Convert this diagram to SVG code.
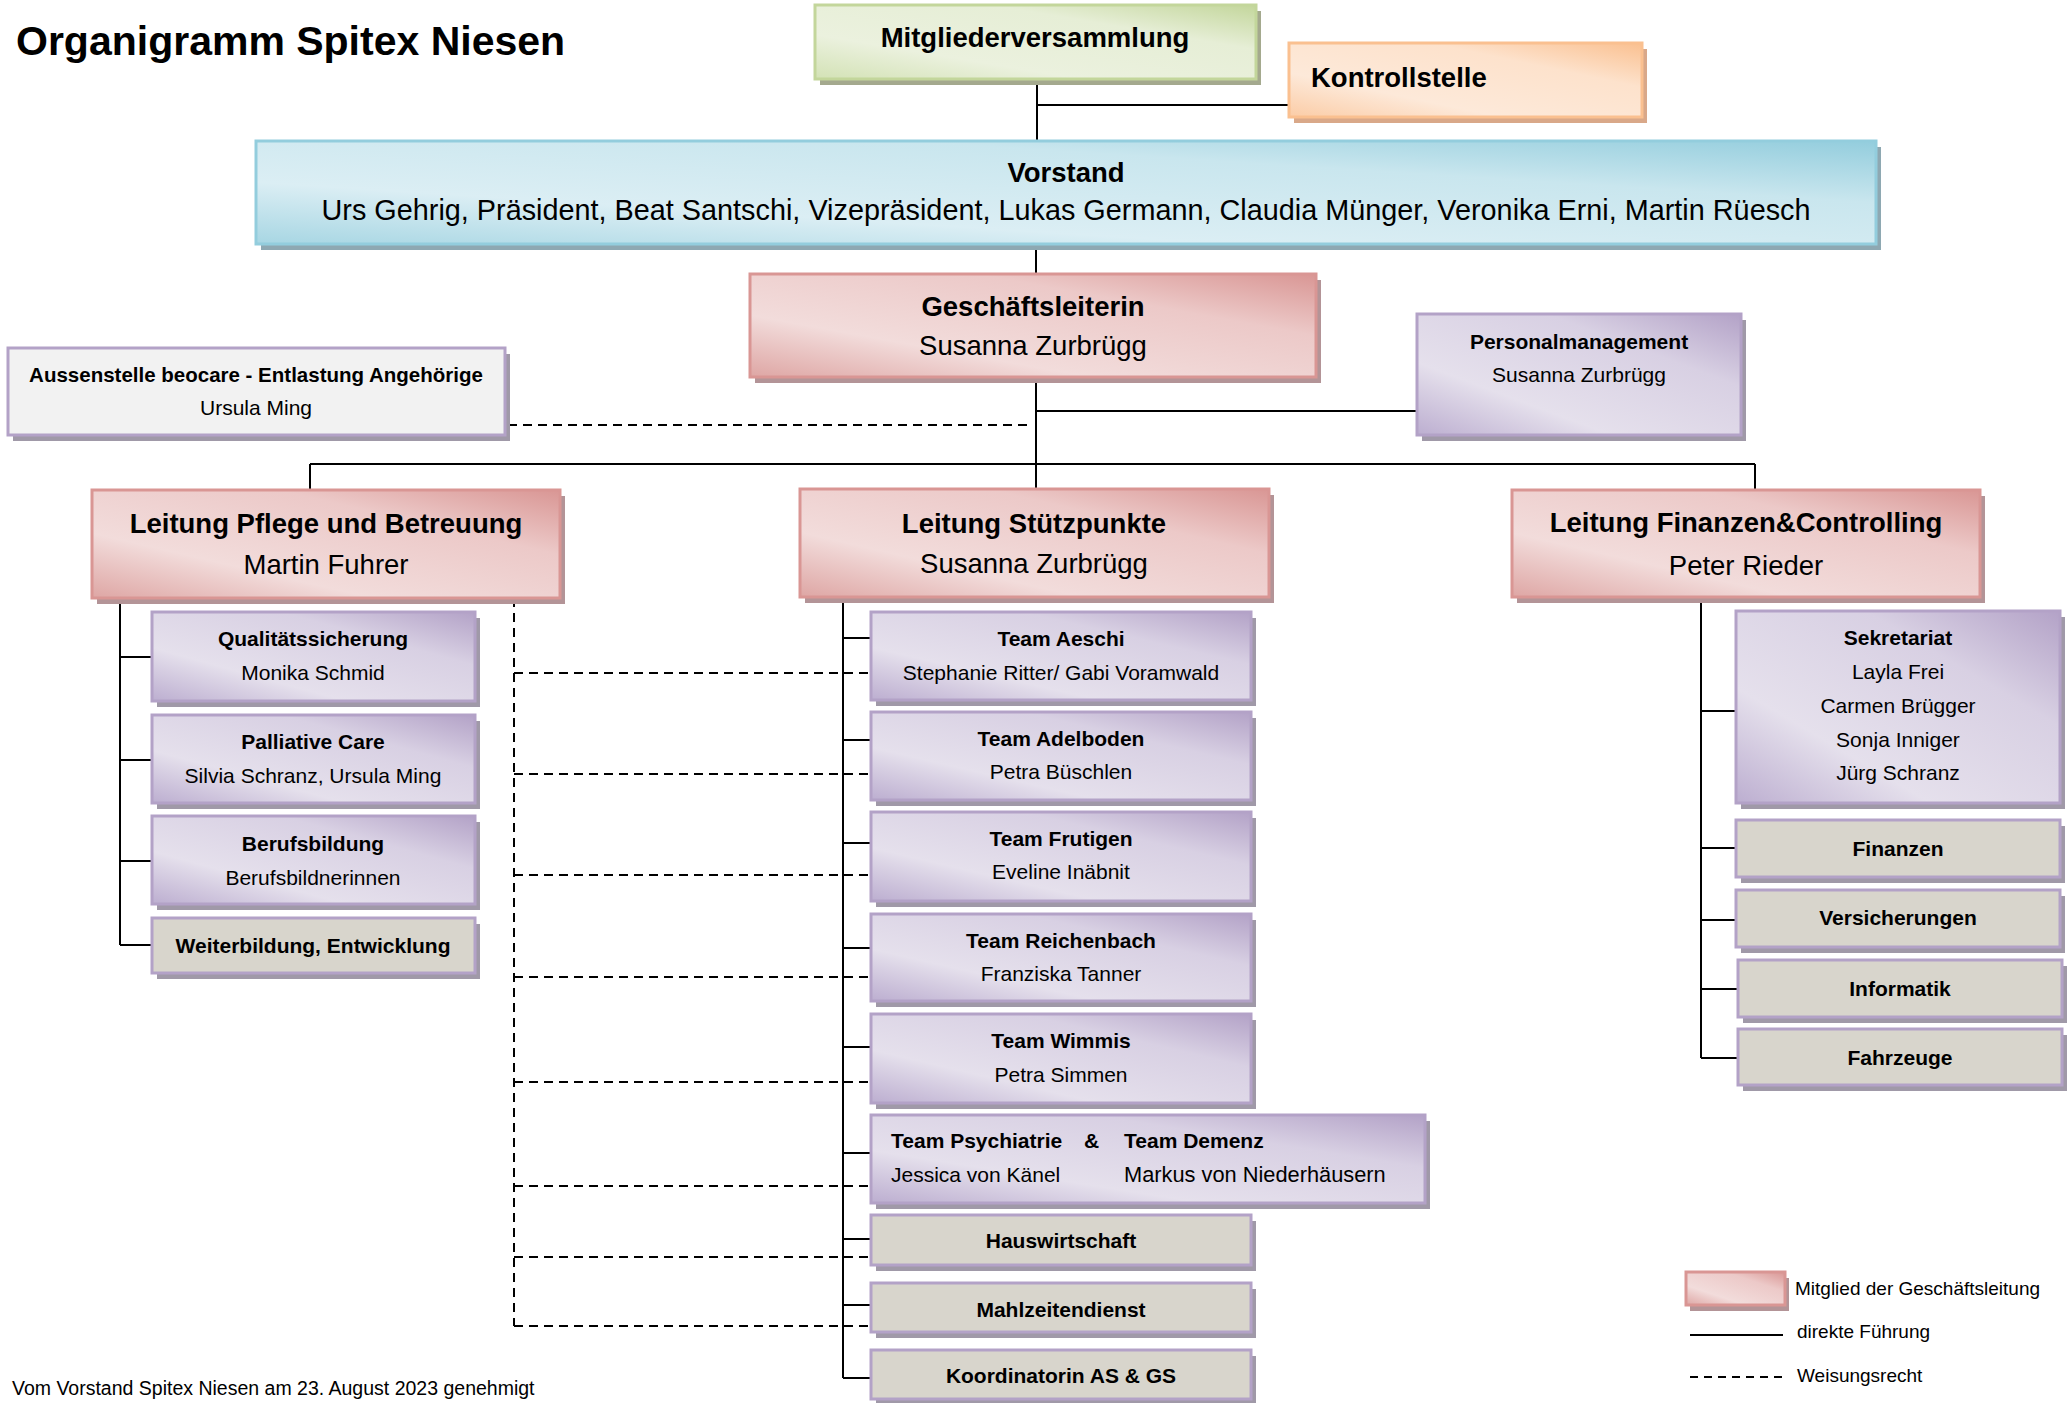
<svg xmlns="http://www.w3.org/2000/svg" width="2069" height="1403" viewBox="0 0 2069 1403">
<defs>
<linearGradient id="gGreen" x1="0" y1="1" x2="1" y2="0"><stop offset="0" stop-color="#d3e2b5"/><stop offset="0.3" stop-color="#ebf1de"/><stop offset="0.7" stop-color="#e6eed6"/><stop offset="1" stop-color="#c3d69b"/></linearGradient>
<linearGradient id="gOrange" x1="0" y1="1" x2="1" y2="0"><stop offset="0" stop-color="#fbcca6"/><stop offset="0.3" stop-color="#fde9d9"/><stop offset="0.7" stop-color="#fde2cc"/><stop offset="1" stop-color="#fac090"/></linearGradient>
<linearGradient id="gBlue" x1="0" y1="1" x2="1" y2="0"><stop offset="0" stop-color="#a7d6e3"/><stop offset="0.3" stop-color="#dbeef4"/><stop offset="0.7" stop-color="#c9e6ee"/><stop offset="1" stop-color="#93cddd"/></linearGradient>
<linearGradient id="gPink" x1="0" y1="1" x2="1" y2="0"><stop offset="0" stop-color="#dea6a4"/><stop offset="0.3" stop-color="#f2dcdb"/><stop offset="0.7" stop-color="#ecc9c8"/><stop offset="1" stop-color="#d99694"/></linearGradient>
<linearGradient id="gPurple" x1="0" y1="1" x2="1" y2="0"><stop offset="0" stop-color="#bcaed0"/><stop offset="0.3" stop-color="#e5e0ec"/><stop offset="0.7" stop-color="#d8d0e3"/><stop offset="1" stop-color="#b3a2c7"/></linearGradient>
<style>
.t{font-family:"Liberation Sans",Arial,sans-serif;fill:#000}
.b{font-weight:bold}
.c{text-anchor:middle}
.s27{font-size:27.5px}
.s21{font-size:21px}
.s19{font-size:19px}
.green{fill:url(#gGreen);stroke:#c3d69b;stroke-width:3}
.orange{fill:url(#gOrange);stroke:#fac090;stroke-width:3}
.blue{fill:url(#gBlue);stroke:#93cddd;stroke-width:3}
.pink{fill:url(#gPink);stroke:#d99694;stroke-width:3}
.purple{fill:url(#gPurple);stroke:#b3a2c7;stroke-width:3}
.grey{fill:#d8d5cc;stroke:#b3a2c7;stroke-width:3}
.white{fill:#f2f2f2;stroke:#b3a2c7;stroke-width:3}
.shG{fill:#a4a98e}
.shO{fill:#d9a889}
.shB{fill:#8ea8b2}
.shP{fill:#b39497}
.shV{fill:#a099a8}
.ln{stroke:#000;stroke-width:2;fill:none}
.da{stroke:#000;stroke-width:2;fill:none;stroke-dasharray:9 6}
</style>
</defs>
<rect width="2069" height="1403" fill="#fff"/>
<text class="t b" x="16" y="55" font-size="41">Organigramm Spitex Niesen</text>

<g id="connectors">
<path class="ln" d="M1037 79V141M1037 105H1289M1036 244V274M1036 377V489M1036 411H1417M310 464H1755M310 464V490M1755 464V490"/>
<path class="ln" d="M120 598V945M120 657H152M120 760H152M120 861H152M120 945H152"/>
<path class="ln" d="M843 597V1378M843 638H871M843 740H871M843 843H871M843 948H871M843 1047H871M843 1153H871M843 1239H871M843 1305H871M843 1378H871"/>
<path class="ln" d="M1701 597V1058M1701 711H1736M1701 848H1736M1701 920H1736M1701 989H1738M1701 1058H1738"/>
<path class="da" d="M508 425H1030"/>
<path class="da" d="M514 598V1326M514 673H871M514 774H871M514 875H871M514 977H871M514 1082H871M514 1186H871M514 1257H871M514 1326H871"/>
</g>

<g id="mitgliederversammlung"><rect class="shG" x="820" y="11" width="441" height="74"/><rect class="green" x="815" y="5" width="441" height="74"/><text class="t b c s27" x="1035" y="47">Mitgliederversammlung</text></g>
<g id="kontrollstelle"><rect class="shO" x="1294" y="49" width="353" height="74"/><rect class="orange" x="1289" y="43" width="353" height="74"/><text class="t b s27" x="1311" y="87">Kontrollstelle</text></g>
<g id="vorstand"><rect class="shB" x="261" y="147" width="1620" height="103"/><rect class="blue" x="256" y="141" width="1620" height="103"/><text class="t b c s27" x="1066" y="182">Vorstand</text><text class="t c" x="1066" y="220" font-size="29" textLength="1489" lengthAdjust="spacingAndGlyphs">Urs Gehrig, Präsident, Beat Santschi, Vizepräsident, Lukas Germann, Claudia Münger, Veronika Erni, Martin Rüesch</text></g>
<g id="geschaeftsleiterin"><rect class="shP" x="755" y="280" width="566" height="103"/><rect class="pink" x="750" y="274" width="566" height="103"/><text class="t b c s27" x="1033" y="316">Geschäftsleiterin</text><text class="t c s27" x="1033" y="355">Susanna Zurbrügg</text></g>
<g id="personalmanagement"><rect class="shV" x="1422" y="320" width="324" height="121"/><rect class="purple" x="1417" y="314" width="324" height="121"/><text class="t b c s21" x="1579" y="349">Personalmanagement</text><text class="t c s21" x="1579" y="382">Susanna Zurbrügg</text></g>
<g id="aussenstelle"><rect class="shV" x="13" y="354" width="497" height="87"/><rect class="white" x="8" y="348" width="497" height="87"/><text class="t b c" x="256" y="382" font-size="20.5">Aussenstelle beocare - Entlastung Angehörige</text><text class="t c s21" x="256" y="415">Ursula Ming</text></g>

<g id="leitung-pflege"><rect class="shP" x="97" y="496" width="468" height="108"/><rect class="pink" x="92" y="490" width="468" height="108"/><text class="t b c s27" x="326" y="533">Leitung Pflege und Betreuung</text><text class="t c s27" x="326" y="574">Martin Fuhrer</text></g>
<g id="leitung-stuetzpunkte"><rect class="shP" x="805" y="495" width="469" height="108"/><rect class="pink" x="800" y="489" width="469" height="108"/><text class="t b c s27" x="1034" y="533">Leitung Stützpunkte</text><text class="t c s27" x="1034" y="573">Susanna Zurbrügg</text></g>
<g id="leitung-finanzen"><rect class="shP" x="1517" y="496" width="468" height="107"/><rect class="pink" x="1512" y="490" width="468" height="107"/><text class="t b c s27" x="1746" y="532">Leitung Finanzen&amp;Controlling</text><text class="t c s27" x="1746" y="575">Peter Rieder</text></g>

<g id="qualitaetssicherung"><rect class="shV" x="157" y="618" width="323" height="89"/><rect class="purple" x="152" y="612" width="323" height="89"/><text class="t b c s21" x="313" y="646">Qualitätssicherung</text><text class="t c s21" x="313" y="680">Monika Schmid</text></g>
<g id="palliative-care"><rect class="shV" x="157" y="721" width="323" height="88"/><rect class="purple" x="152" y="715" width="323" height="88"/><text class="t b c s21" x="313" y="749">Palliative Care</text><text class="t c s21" x="313" y="783">Silvia Schranz, Ursula Ming</text></g>
<g id="berufsbildung"><rect class="shV" x="157" y="822" width="323" height="88"/><rect class="purple" x="152" y="816" width="323" height="88"/><text class="t b c s21" x="313" y="851">Berufsbildung</text><text class="t c s21" x="313" y="885">Berufsbildnerinnen</text></g>
<g id="weiterbildung"><rect class="shV" x="157" y="924" width="323" height="55"/><rect class="grey" x="152" y="918" width="323" height="55"/><text class="t b c s21" x="313" y="953">Weiterbildung, Entwicklung</text></g>

<g id="team-aeschi"><rect class="shV" x="876" y="618" width="380" height="88"/><rect class="purple" x="871" y="612" width="380" height="88"/><text class="t b c s21" x="1061" y="646">Team Aeschi</text><text class="t c s21" x="1061" y="680">Stephanie Ritter/ Gabi Voramwald</text></g>
<g id="team-adelboden"><rect class="shV" x="876" y="718" width="380" height="88"/><rect class="purple" x="871" y="712" width="380" height="88"/><text class="t b c s21" x="1061" y="746">Team Adelboden</text><text class="t c s21" x="1061" y="779">Petra Büschlen</text></g>
<g id="team-frutigen"><rect class="shV" x="876" y="818" width="380" height="89"/><rect class="purple" x="871" y="812" width="380" height="89"/><text class="t b c s21" x="1061" y="846">Team Frutigen</text><text class="t c s21" x="1061" y="879">Eveline Inäbnit</text></g>
<g id="team-reichenbach"><rect class="shV" x="876" y="920" width="380" height="87"/><rect class="purple" x="871" y="914" width="380" height="87"/><text class="t b c s21" x="1061" y="948">Team Reichenbach</text><text class="t c s21" x="1061" y="981">Franziska Tanner</text></g>
<g id="team-wimmis"><rect class="shV" x="876" y="1020" width="380" height="89"/><rect class="purple" x="871" y="1014" width="380" height="89"/><text class="t b c s21" x="1061" y="1048">Team Wimmis</text><text class="t c s21" x="1061" y="1082">Petra Simmen</text></g>
<g id="team-psychiatrie-demenz"><rect class="shV" x="876" y="1121" width="554" height="88"/><rect class="purple" x="871" y="1115" width="554" height="88"/><text class="t b s21" x="891" y="1148">Team Psychiatrie</text><text class="t b s21" x="1084" y="1148">&amp;</text><text class="t b s21" x="1124" y="1148">Team Demenz</text><text class="t s21" x="891" y="1182">Jessica von Känel</text><text class="t" x="1124" y="1182" style="font-size:21.8px">Markus von Niederhäusern</text></g>
<g id="hauswirtschaft"><rect class="shV" x="876" y="1221" width="380" height="50"/><rect class="grey" x="871" y="1215" width="380" height="50"/><text class="t b c s21" x="1061" y="1248">Hauswirtschaft</text></g>
<g id="mahlzeitendienst"><rect class="shV" x="876" y="1289" width="380" height="49"/><rect class="grey" x="871" y="1283" width="380" height="49"/><text class="t b c s21" x="1061" y="1317">Mahlzeitendienst</text></g>
<g id="koordinatorin"><rect class="shV" x="876" y="1356" width="380" height="49"/><rect class="grey" x="871" y="1350" width="380" height="49"/><text class="t b c s21" x="1061" y="1383">Koordinatorin AS &amp; GS</text></g>

<g id="sekretariat"><rect class="shV" x="1741" y="617" width="324" height="192"/><rect class="purple" x="1736" y="611" width="324" height="192"/><text class="t b c s21" x="1898" y="645">Sekretariat</text><text class="t c s21" x="1898" y="679">Layla Frei</text><text class="t c s21" x="1898" y="713">Carmen Brügger</text><text class="t c s21" x="1898" y="747">Sonja Inniger</text><text class="t c s21" x="1898" y="780">Jürg Schranz</text></g>
<g id="finanzen"><rect class="shV" x="1741" y="826" width="324" height="57"/><rect class="grey" x="1736" y="820" width="324" height="57"/><text class="t b c s21" x="1898" y="856">Finanzen</text></g>
<g id="versicherungen"><rect class="shV" x="1741" y="896" width="324" height="57"/><rect class="grey" x="1736" y="890" width="324" height="57"/><text class="t b c s21" x="1898" y="925">Versicherungen</text></g>
<g id="informatik"><rect class="shV" x="1743" y="966" width="324" height="57"/><rect class="grey" x="1738" y="960" width="324" height="57"/><text class="t b c s21" x="1900" y="996">Informatik</text></g>
<g id="fahrzeuge"><rect class="shV" x="1743" y="1035" width="324" height="56"/><rect class="grey" x="1738" y="1029" width="324" height="56"/><text class="t b c s21" x="1900" y="1065">Fahrzeuge</text></g>

<g id="legend">
<rect class="shP" x="1690" y="1278" width="99" height="33"/><rect class="pink" x="1686" y="1272" width="99" height="33"/>
<text class="t s19" x="1795" y="1295">Mitglied der Geschäftsleitung</text>
<path class="ln" d="M1690 1335H1783"/>
<text class="t s19" x="1797" y="1338">direkte Führung</text>
<path class="da" d="M1690 1377H1783" style="stroke-dasharray:8 6"/>
<text class="t s19" x="1797" y="1382">Weisungsrecht</text>
</g>
<text class="t" x="12" y="1395" font-size="19.5">Vom Vorstand Spitex Niesen am 23. August 2023 genehmigt</text>
</svg>
